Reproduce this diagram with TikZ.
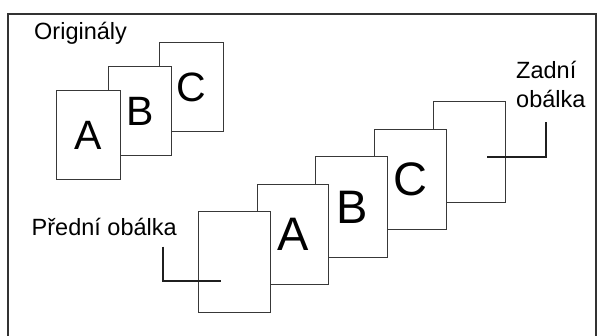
\documentclass[tikz,border=0pt]{standalone}
\usepackage{fontspec}
\setmainfont{Liberation Sans}

\tikzset{
  page/.style={rectangle,draw=black!78,line width=1pt,fill=white,inner sep=0pt,outer sep=0pt},
  origpage/.style={page,minimum width=63.5pt,minimum height=89pt,font=\fontsize{41}{41}\selectfont},
  copypage/.style={page,minimum width=71.7pt,minimum height=100.8pt,font=\fontsize{47}{47}\selectfont},
  textlbl/.style={inner sep=0pt,font=\fontsize{23.5}{29.4}\selectfont,align=left},
  leader/.style={draw=black!88,line width=2pt},
}

\begin{document}
\begin{tikzpicture}[x=1pt,y=-1pt]
  \useasboundingbox (0,0) rectangle (597,336);
  % ramecek
  \draw[draw=black!80,line width=2pt] (8.3,340) -- (8.3,13.8) -- (596,13.8) -- (596,340);
  % originaly A, B, C
  \node[textlbl,anchor=base west] (origlbl) at (34,40) {Originály};
  \node[origpage] (origC) at (191.7,87.2) {C};
  \node[origpage] (origB) at (140,111.2) {B};
  \node[origpage] (origA) at (88.3,135.3) {A};
  % kopie s obalkami
  \node[copypage] (back) at (469.4,152) {};
  \node[copypage] (copyC) at (410.6,179.5) {C};
  \node[copypage] (copyB) at (351.8,207) {B};
  \node[copypage] (copyA) at (293,234.5) {A};
  \node[copypage] (front) at (234.2,262) {};
  % popisky
  \node[textlbl,anchor=base west] (frontlbl) at (31.5,236) {Přední obálka};
  \node[textlbl,anchor=base west] (backlbl) at (516,107.7) {Zadní\\obálka};
  \coordinate (fronttop) at (163.3,246.7);
  \coordinate (frontend) at (220.7,281);
  \draw[leader] (fronttop) |- (frontend);
  \coordinate (backend) at (487.3,156.7);
  \coordinate (backtop) at (545.7,121.7);
  \draw[leader] (backend) -| (backtop);
\end{tikzpicture}
\end{document}
